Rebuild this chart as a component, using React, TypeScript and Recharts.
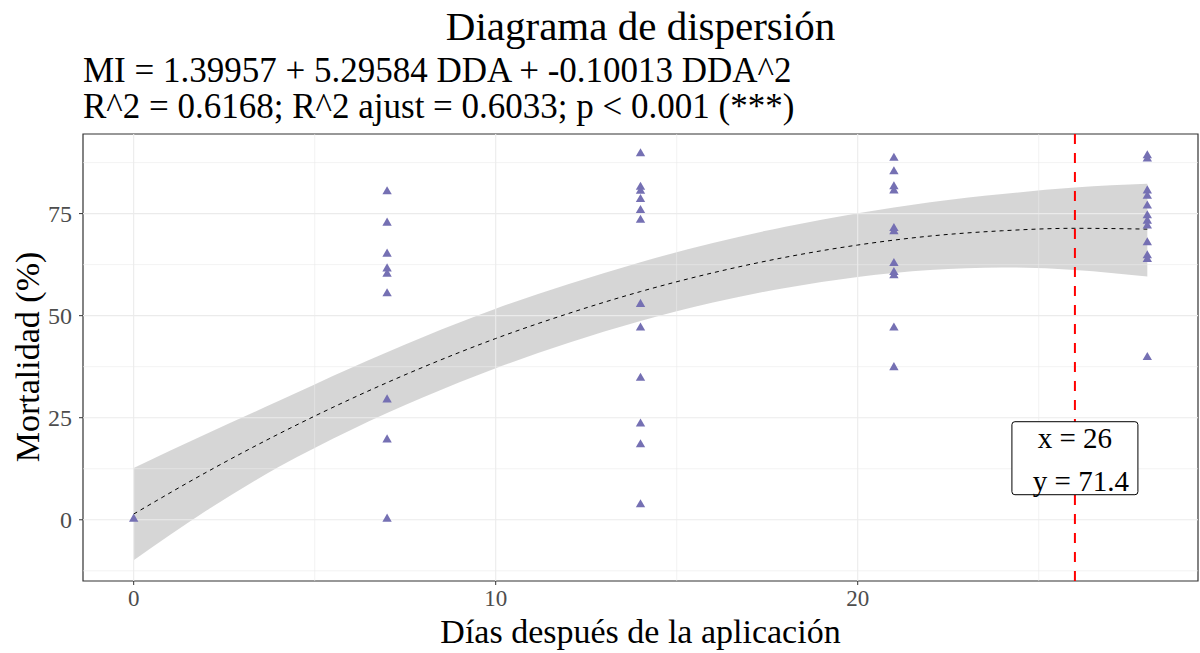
import {
    Area,
    ComposedChart,
    Line,
    ReferenceArea,
    ReferenceDot,
    ReferenceLine,
    Scatter,
    XAxis,
    YAxis,
    ZAxis,
} from 'recharts';

const SERIF = '"Liberation Serif", "Times New Roman", serif';

// observed mortality (%) per sampling day
const day0 = [0.2];
const day7 = [80.4, 72.7, 65.1, 61.5, 60.2, 55.4, 29.4, 19.6, 0.2];
const day14 = [89.7, 81.5, 80.5, 78.5, 75.8, 73.4, 52.8, 47.0, 34.7, 23.5, 18.4, 3.7];
const day21 = [88.6, 85.3, 81.6, 80.6, 71.4, 70.6, 62.8, 60.6, 59.8, 47.0, 37.3];
const day28 = [89.2, 88.4, 80.6, 79.3, 76.9, 74.5, 73.2, 72.0, 67.9, 64.7, 63.8, 39.8];

// fitted curve and its confidence band
const curveDays = [0, 2, 4, 6, 8, 10, 12, 14, 16, 18, 20, 22, 24, 26, 28];
const fitValues = [1.4, 11.6, 21.0, 29.6, 37.4, 44.4, 50.5, 55.9, 60.5, 64.3, 67.3, 69.5, 70.8, 71.4, 71.2];
const lowerBand = [-9.9, 2.2, 12.9, 22.0, 30.0, 37.1, 43.3, 48.7, 53.2, 56.8, 59.5, 61.2, 61.8, 61.2, 59.6];
const upperBand = [12.7, 21.0, 29.1, 37.2, 44.8, 51.7, 57.7, 63.1, 67.8, 71.8, 75.1, 77.8, 79.8, 81.4, 82.3];

const xTicks = [0, 10, 20];
const xMinor = [5, 15, 25];
const yTicks = [0, 25, 50, 75];
const yMinor = [-12.5, 12.5, 37.5, 62.5, 87.5];

const xDomain = [-1.4, 29.4];
const yDomain = [-15, 94.5];

const markX = 26;
const markY = 71.4;
const labelY = 15.2;

const groups: [number, number[]][] = [
    [0, day0],
    [7, day7],
    [14, day14],
    [21, day21],
    [28, day28],
];
const points = groups.flatMap(([d, vals]) => vals.map((v) => ({ x: d, y: v })));

const curve = curveDays.map((d, i) => ({
    x: d,
    fit: fitValues[i],
    band: [lowerBand[i], upperBand[i]],
}));

function LabelBox(props: any) {
    const { cx, cy } = props;
    if (cx == null || cy == null) return null;
    return (
        <g>
            <rect
                x={cx - 63}
                y={cy - 36}
                width={126}
                height={73}
                rx={3}
                fill="#fff"
                stroke="#000"
                strokeWidth={1}
            />
            <text x={cx} y={cy - 10} textAnchor="middle" fontFamily={SERIF} fontSize={29} fill="#000">
                {`x = ${markX}`}
            </text>
            <text x={cx + 6} y={cy + 33} textAnchor="middle" fontFamily={SERIF} fontSize={29} fill="#000">
                {`y = ${markY}`}
            </text>
        </g>
    );
}

export default function App() {
    const grid = '#EBEBEB';
    return (
        <div style={{ position: 'absolute', left: 0, top: 0, width: 1200, height: 653, background: '#fff' }}>
            <ComposedChart
                width={1200}
                height={653}
                data={curve}
                margin={{ top: 134, right: 2, left: 0, bottom: 0 }}
            >
                <XAxis
                    type="number"
                    dataKey="x"
                    domain={xDomain}
                    ticks={xTicks}
                    allowDataOverflow
                    height={72}
                    axisLine={false}
                    tickLine={{ stroke: '#333' }}
                    tickSize={4}
                    tickMargin={5}
                    tick={{ fontSize: 23, fill: '#4D4D4D', fontFamily: SERIF }}
                />
                <YAxis
                    type="number"
                    domain={yDomain}
                    ticks={yTicks}
                    allowDataOverflow
                    width={83}
                    axisLine={false}
                    tickLine={{ stroke: '#333' }}
                    tickSize={4}
                    tickMargin={7}
                    tick={{ fontSize: 24, fill: '#4D4D4D', fontFamily: SERIF }}
                />
                <ZAxis range={[38, 38]} />
                {yMinor.map((v) => (
                    <ReferenceLine key={`ym${v}`} y={v} stroke={grid} strokeWidth={0.6} />
                ))}
                {xMinor.map((v) => (
                    <ReferenceLine key={`xm${v}`} x={v} stroke={grid} strokeWidth={0.6} />
                ))}
                {yTicks.map((v) => (
                    <ReferenceLine key={`y${v}`} y={v} stroke={grid} strokeWidth={1.1} />
                ))}
                {xTicks.map((v) => (
                    <ReferenceLine key={`x${v}`} x={v} stroke={grid} strokeWidth={1.1} />
                ))}
                <Scatter
                    data={points}
                    dataKey="y"
                    shape="triangle"
                    fill="#7570B3"
                    isAnimationActive={false}
                />
                <Area
                    dataKey="band"
                    type="monotone"
                    stroke="none"
                    fill="#999999"
                    fillOpacity={0.4}
                    isAnimationActive={false}
                    activeDot={false}
                />
                <Line
                    dataKey="fit"
                    type="monotone"
                    stroke="#000"
                    strokeWidth={1}
                    strokeDasharray="4 4"
                    dot={false}
                    activeDot={false}
                    isAnimationActive={false}
                />
                <ReferenceLine x={markX} stroke="#FF0000" strokeWidth={2} strokeDasharray="10 9" />
                <ReferenceArea
                    x1={xDomain[0]}
                    x2={xDomain[1]}
                    y1={yDomain[0]}
                    y2={yDomain[1]}
                    fill="none"
                    stroke="#333"
                    strokeWidth={1.2}
                    ifOverflow="visible"
                />
                <ReferenceDot x={markX} y={labelY} shape={LabelBox} ifOverflow="visible" />
            </ComposedChart>
            <svg
                width={1200}
                height={653}
                style={{ position: 'absolute', left: 0, top: 0, pointerEvents: 'none' }}
            >
                <text x={640.5} y={40} textAnchor="middle" fontFamily={SERIF} fontSize={41} fill="#000">
                    Diagrama de dispersión
                </text>
                <text x={83} y={82} fontFamily={SERIF} fontSize={35} fill="#000">
                    MI = 1.39957 + 5.29584 DDA + -0.10013 DDA^2
                </text>
                <text x={83} y={118} fontFamily={SERIF} fontSize={35} fill="#000">
                    R^2 = 0.6168; R^2 ajust = 0.6033; p &lt; 0.001 (***)
                </text>
                <text x={640.5} y={643} textAnchor="middle" fontFamily={SERIF} fontSize={34} fill="#000">
                    Días después de la aplicación
                </text>
                <text
                    transform="translate(39, 357) rotate(-90)"
                    textAnchor="middle"
                    fontFamily={SERIF}
                    fontSize={34}
                    fill="#000"
                >
                    Mortalidad (%)
                </text>
            </svg>
        </div>
    );
}
